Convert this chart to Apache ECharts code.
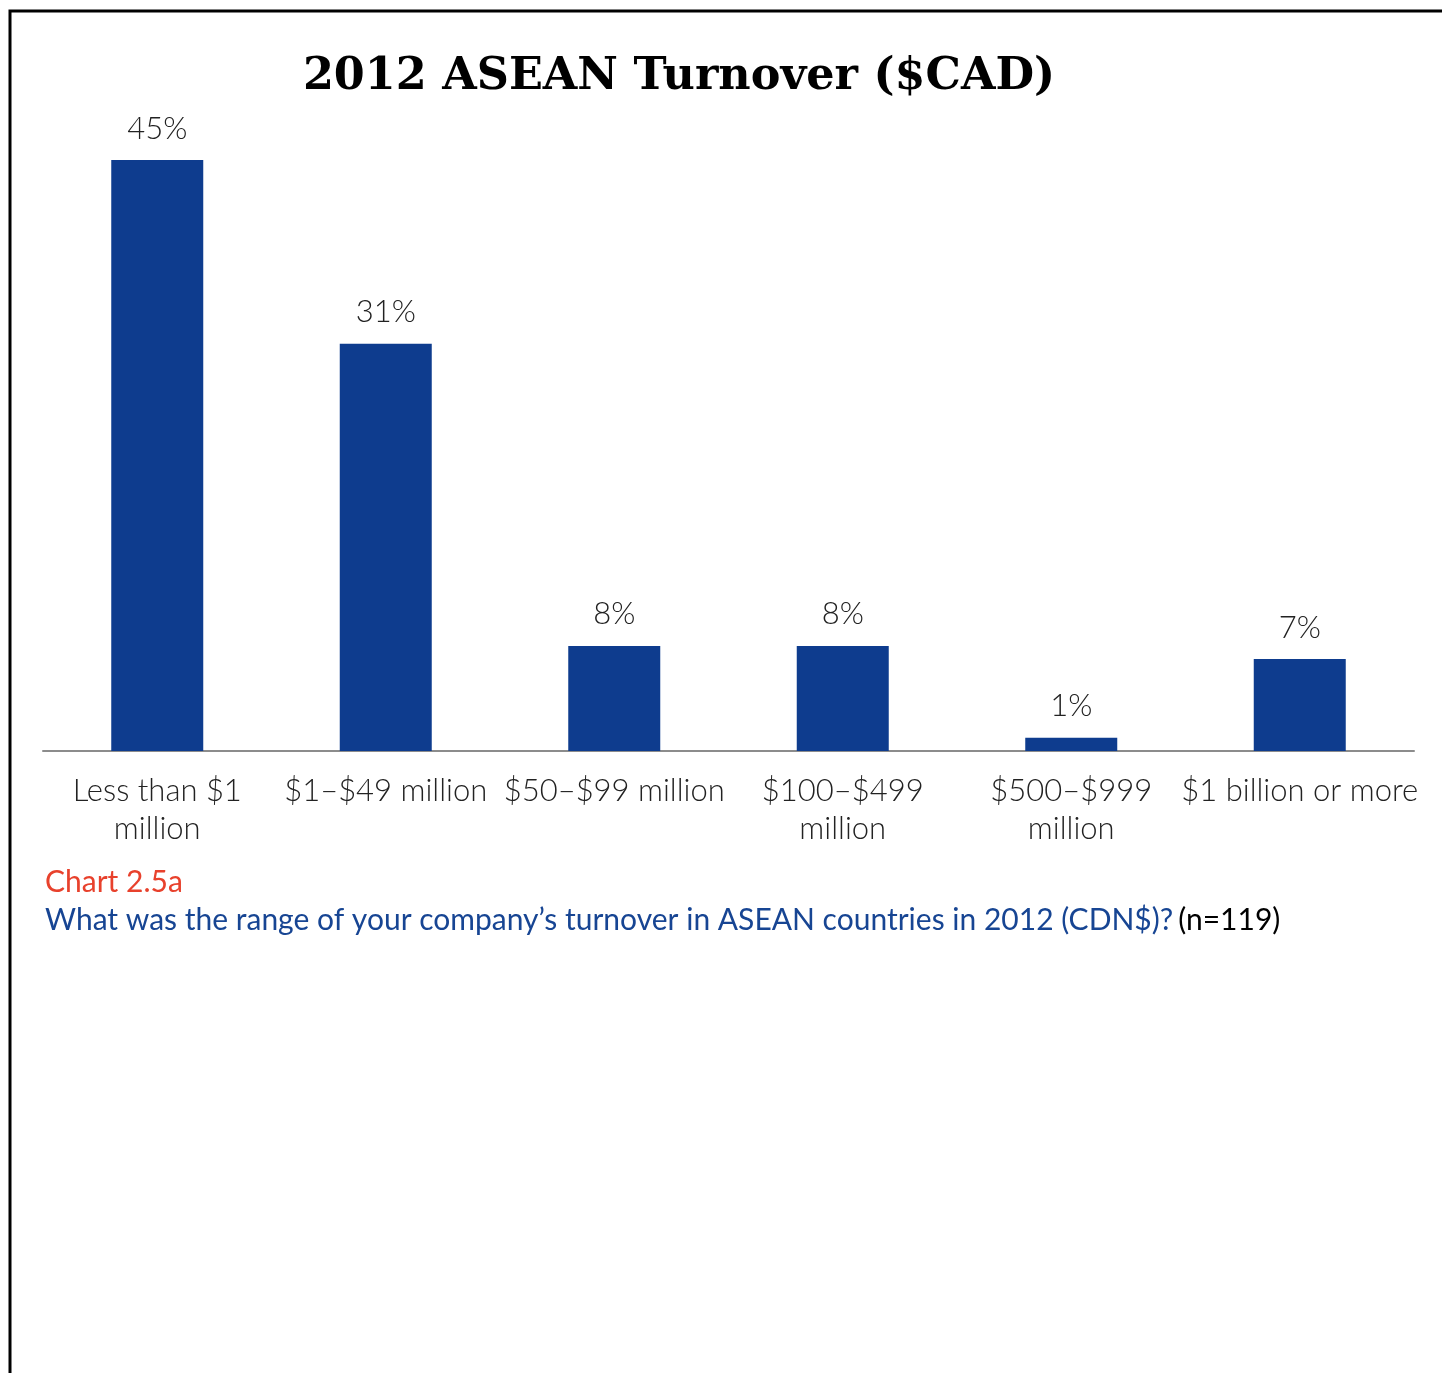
<!DOCTYPE html>
<html>
<head>
<meta charset="utf-8">
<style>
  html, body { margin: 0; padding: 0; background: #fff; }
  #chart { width: 1442px; height: 1373px; }
</style>
<script src="https://cdn.jsdelivr.net/npm/echarts@6/dist/echarts.min.js"></script>
</head>
<body>
<div id="chart"></div>
<script>
// Turnover bands and share of respondents (%)
const categories = [
  'Less than $1\nmillion',
  '$1–$49 million',
  '$50–$99 million',
  '$100–$499\nmillion',
  '$500–$999\nmillion',
  '$1 billion or more'
];
const shares = [45, 31, 8, 8, 1, 7];

const chartTitle = '2012 ASEAN Turnover ($CAD)';
const chartNumber = 'Chart 2.5a';
const question = 'What was the range of your company’s turnover in ASEAN countries in 2012 (CDN$)?';
const sampleNote = '(n=119)';

const BAR_BLUE = '#0e3c8e';
const TEXT_FONT = 'Lato, "Open Sans", sans-serif';

const chart = echarts.init(document.getElementById('chart'), null, { renderer: 'canvas' });

chart.setOption({
  backgroundColor: '#ffffff',
  animation: false,
  title: [
    {
      text: chartTitle,
      left: 674,
      textAlign: 'center',
      top: 50,
      textStyle: {
        fontFamily: '"DejaVu Serif", serif',
        fontWeight: 'bold',
        fontSize: 44.5,
        color: '#000'
      }
    },
    {
      text: chartNumber,
      left: 40,
      top: 862,
      textStyle: { fontFamily: TEXT_FONT, fontWeight: 'normal', fontSize: 30, color: '#e8412c' }
    },
    {
      text: '{q|' + question + '} {n|' + sampleNote + '}',
      left: 40,
      top: 900,
      textStyle: {
        fontWeight: 'normal',
        rich: {
          q: { fontFamily: TEXT_FONT, fontWeight: 'normal', fontSize: 30, color: '#174593' },
          n: { fontFamily: TEXT_FONT, fontWeight: 'normal', fontSize: 30, color: '#000' }
        }
      }
    }
  ],
  grid: { left: 43, right: 28, top: 160, bottom: 622, containLabel: false },
  xAxis: {
    type: 'category',
    data: categories,
    axisLine: { show: true, lineStyle: { color: '#8c8c8c', width: 2 } },
    axisTick: { show: false },
    axisLabel: {
      interval: 0,
      margin: 21,
      fontFamily: TEXT_FONT,
      fontWeight: 300,
      fontSize: 31,
      lineHeight: 38,
      color: '#222'
    }
  },
  yAxis: {
    type: 'value',
    min: 0,
    max: 45,
    show: false,
    splitLine: { show: false }
  },
  series: [{
    type: 'bar',
    data: shares,
    barWidth: 92,
    itemStyle: { color: BAR_BLUE },
    label: {
      show: true,
      position: 'top',
      distance: 16,
      formatter: '{c}%',
      fontFamily: TEXT_FONT,
      fontWeight: 300,
      fontSize: 31,
      color: '#222'
    }
  }],
  graphic: [{
    type: 'polyline',
    shape: { points: [[10, 1373], [10, 11], [1442, 11]] },
    style: { stroke: '#000', lineWidth: 3, fill: null }
  }]
});
</script>
</body>
</html>
